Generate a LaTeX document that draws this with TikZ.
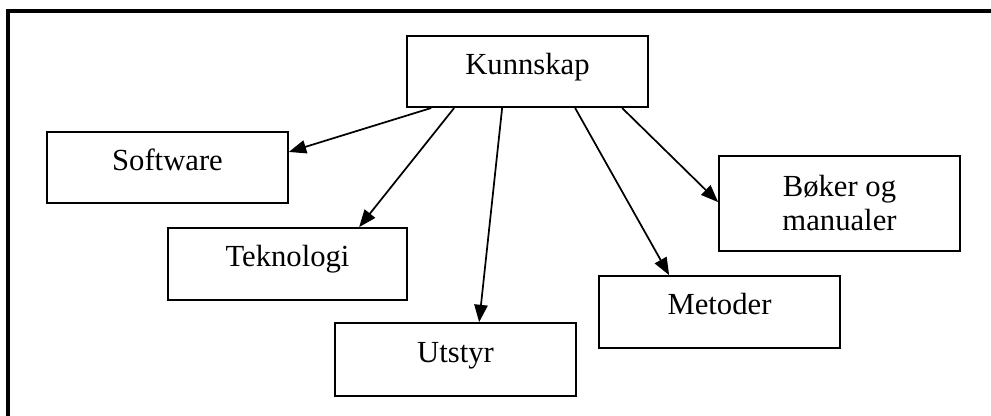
\documentclass[tikz,border=0pt]{standalone}
\usepackage{fontspec}
\setmainfont{Liberation Serif}
\usetikzlibrary{arrows.meta,calc}
\begin{document}
\begin{tikzpicture}[
  x=0.75pt, y=-0.75pt,
  box/.style={draw, line width=1.3pt, rectangle, inner sep=0pt,
    minimum width=180.75pt, minimum height=53.5pt,
    font=\fontsize{23}{25.5}\selectfont, text height=12pt, text depth=8pt},
  link/.style={line width=1.3pt, -{Triangle[length=13pt,width=10pt]}},
  frame/.style={line width=2.4pt}
]
\useasboundingbox (0,0) rectangle (991,416);
\begin{scope}
  \clip (0,0) rectangle (991,416);
  \draw[frame] (8,440) -- (8,11) -- (1010,11);
\end{scope}

% boxes
\node[box] (k)   at (527.5,71.5)  {Kunnskap};
\node[box] (sw)  at (167.5,167.5) {Software};
\node[box, minimum width=179.25pt, minimum height=54pt] (tek) at (287.5,264) {Teknologi};
\node[box, minimum height=54.75pt] (ut) at (455.5,359.5) {Utstyr};
\node[box, minimum height=54pt] (met) at (719.5,312) {Metoder};
\node[box, minimum height=71.25pt, align=center, text height=, text depth=] (bok) at (839.5,203.5) {Bøker og\\manualer};

% links from the top node
\draw[link] ($(k.south west)+(25,0)$)  -- ($(sw.north east)+(0,21)$);
\draw[link] ($(k.south west)+(48,0)$)  -- ($(tek.north west)+(192,0)$);
\draw[link] ($(k.south west)+(96,0)$)  -- ($(ut.north west)+(145,0)$);
\draw[link] ($(k.south west)+(169,0)$) -- ($(met.north west)+(71,0)$);
\draw[link] ($(k.south west)+(216,0)$) -- ($(bok.north west)+(0,47)$);
\end{tikzpicture}
\end{document}
